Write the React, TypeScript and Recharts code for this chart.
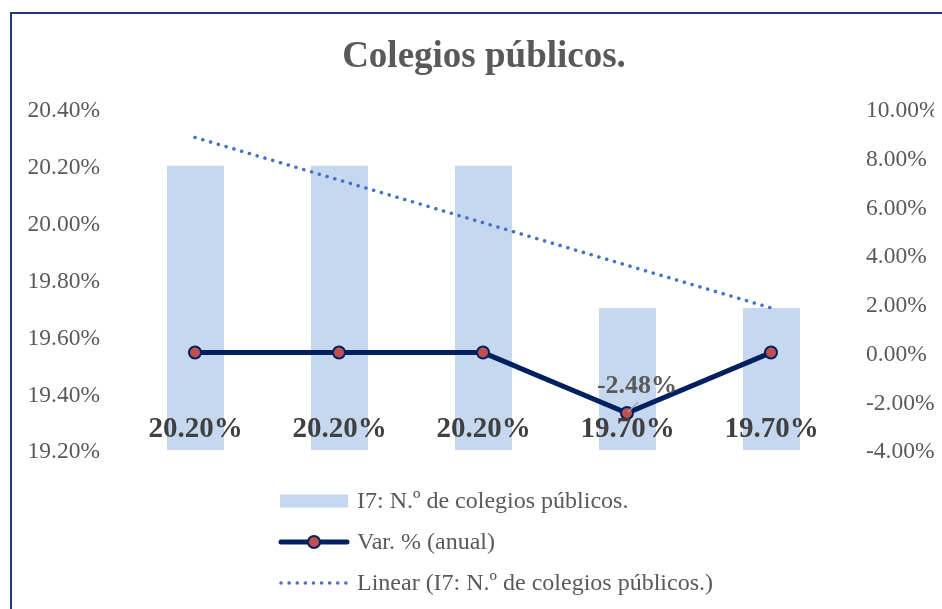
import React from 'react';
import { ComposedChart, Bar, Line, XAxis, YAxis, Legend, LabelList } from 'recharts';

const categories = ['1', '2', '3', '4', '5'];
const colegiosValues = [20.2, 20.2, 20.2, 19.7, 19.7];
const varAnualValues = [0, 0, 0, -2.48, 0];
const trendValues: (number | null)[] = [20.3, null, null, null, 19.7];
const leftTicks = [19.2, 19.4, 19.6, 19.8, 20.0, 20.2, 20.4];
const rightTicks = [-4, -2, 0, 2, 4, 6, 8, 10];

const data = categories.map((c, i) => ({
  cat: c,
  colegios: colegiosValues[i],
  varAnual: varAnualValues[i],
  trend: trendValues[i],
}));

const FONT = "'Liberation Serif', 'Times New Roman', serif";
const TEXT = '#595959';
const BAR = '#c6d8f0';
const NAVY = '#002060';
const DOT = '#c0504d';
const TREND = '#4472c4';

const fmt = (v: number) => `${v.toFixed(2)}%`;

const BarLabel = (props: any) => {
  const { x, y, width, height, value } = props;
  return (
    <text
      x={x + width / 2}
      y={y + height - 23}
      dy="0.35em"
      textAnchor="middle"
      fill="#404040"
      fontFamily={FONT}
      fontWeight="bold"
      fontSize={29}
    >
      {fmt(value)}
    </text>
  );
};

const LineLabel = (props: any) => {
  const { x, y, value } = props;
  if (value === 0 || value == null) return null;
  return (
    <g>
      <line x1={x + 11} y1={y - 11} x2={x + 1} y2={y - 1} stroke="#a6a6a6" strokeWidth={1.5} />
      <text
        x={x + 10}
        y={y - 29.5}
        dy="0.35em"
        textAnchor="middle"
        fill={TEXT}
        fontFamily={FONT}
        fontWeight="bold"
        fontSize={26}
      >
        {fmt(value)}
      </text>
    </g>
  );
};

const Dot = (props: any) => {
  const { cx, cy, index } = props;
  if (cx == null || cy == null) return null;
  return <circle key={`d${index}`} cx={cx} cy={cy} r={6} fill={DOT} stroke={NAVY} strokeWidth={2} />;
};

const LegendContent = () => {
  const row: React.CSSProperties = { height: 41, display: 'flex', alignItems: 'center' };
  const txt: React.CSSProperties = { marginLeft: 7, fontFamily: FONT, fontSize: 24, color: TEXT, whiteSpace: 'nowrap' };
  return (
    <div style={{ width: 540 }}>
      <div style={row}>
        <svg width={72} height={16}>
          <rect x={2} y={1.5} width={68} height={13} fill={BAR} />
        </svg>
        <span style={txt}>I7: N.º de colegios públicos.</span>
      </div>
      <div style={row}>
        <svg width={72} height={16}>
          <line x1={3} y1={8} x2={69} y2={8} stroke={NAVY} strokeWidth={5} strokeLinecap="round" />
          <circle cx={36} cy={8} r={6} fill={DOT} stroke={NAVY} strokeWidth={2} />
        </svg>
        <span style={txt}>Var. % (anual)</span>
      </div>
      <div style={row}>
        <svg width={72} height={16}>
          <line x1={3} y1={8} x2={70} y2={8} stroke={TREND} strokeWidth={3.5} strokeLinecap="round" strokeDasharray="0.1 8" />
        </svg>
        <span style={txt}>Linear (I7: N.º de colegios públicos.)</span>
      </div>
    </div>
  );
};

export default function App() {
  return (
    <div style={{ position: 'relative', width: 934, height: 601, overflow: 'hidden' }}>
      <div
        style={{
          position: 'fixed',
          left: 10,
          top: 12,
          width: 1000,
          height: 1000,
          borderTop: '2px solid #1f3a70',
          borderLeft: '2px solid #1f3a70',
          boxSizing: 'border-box',
        }}
      />
      <div
        style={{
          position: 'absolute',
          left: 476,
          top: 28,
          transform: 'translateX(-50%)',
          fontFamily: FONT,
          fontWeight: 'bold',
          fontSize: 37,
          lineHeight: '37px',
          color: TEXT,
          whiteSpace: 'nowrap',
        }}
      >
        Colegios públicos.
      </div>
      <ComposedChart
        width={934}
        height={601}
        data={data}
        margin={{ top: 101, right: 0, left: 0, bottom: 36 }}
        style={{ overflow: 'visible' }}
      >
        <XAxis dataKey="cat" hide />
        <YAxis
          yAxisId="left"
          orientation="left"
          width={115}
          domain={[19.2, 20.4]}
          ticks={leftTicks}
          tickFormatter={fmt}
          axisLine={false}
          tickLine={false}
          tickSize={0}
          tickMargin={23}
          interval={0}
          tick={{ fill: TEXT, fontFamily: FONT, fontSize: 23.5 }}
        />
        <YAxis
          yAxisId="right"
          orientation="right"
          width={99}
          domain={[-4, 10]}
          ticks={rightTicks}
          tickFormatter={fmt}
          axisLine={false}
          tickLine={false}
          tickSize={0}
          tickMargin={23}
          interval={0}
          tick={{ fill: TEXT, fontFamily: FONT, fontSize: 23.5, textAnchor: 'start' }}
        />
        <Bar yAxisId="left" dataKey="colegios" fill={BAR} barSize={57} isAnimationActive={false}>
          <LabelList dataKey="colegios" content={BarLabel} />
        </Bar>
        <Line
          yAxisId="left"
          dataKey="trend"
          connectNulls
          stroke={TREND}
          strokeWidth={3.5}
          strokeLinecap="round"
          strokeDasharray="0.1 8"
          dot={false}
          activeDot={false}
          isAnimationActive={false}
        />
        <Line
          yAxisId="right"
          dataKey="varAnual"
          stroke={NAVY}
          strokeWidth={5}
          dot={Dot}
          activeDot={false}
          isAnimationActive={false}
        >
          <LabelList dataKey="varAnual" content={LineLabel} />
        </Line>
        <Legend
          layout="vertical"
          align="center"
          verticalAlign="bottom"
          content={LegendContent}
          wrapperStyle={{ left: 270, top: 472, bottom: 'auto', width: 540 }}
        />
      </ComposedChart>
    </div>
  );
}
